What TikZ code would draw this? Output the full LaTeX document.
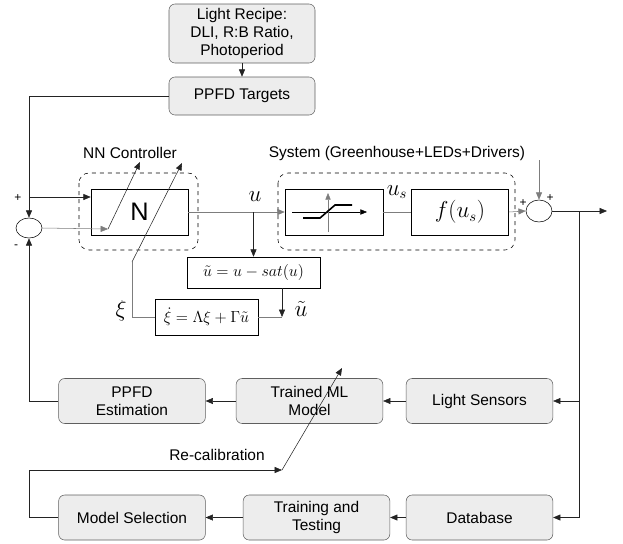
\documentclass[tikz,border=0pt]{standalone}
\usepackage{amsmath}
\usepackage[no-math]{fontspec}
\setmainfont{Liberation Sans}
\usepackage{tikz}
\usetikzlibrary{arrows.meta}
\usetikzlibrary{shapes.geometric}
\usetikzlibrary{positioning}

\definecolor{boxfill}{RGB}{237,237,237}
\definecolor{boxdraw}{RGB}{95,95,95}
\definecolor{wire}{RGB}{35,35,35}
\definecolor{lwire}{RGB}{125,125,125}

\tikzset{
  rbox/.style={draw=boxdraw, fill=boxfill, rounded corners=4.5pt, minimum width=110pt, minimum height=33.75pt, align=center, inner sep=0.75pt, font=\fontsize{11.6}{13.5}\selectfont},
  blk/.style={draw=black, minimum width=72.75pt, minimum height=34.5pt, inner sep=0.75pt},
  sumj/.style={ellipse, draw=black, minimum width=19.5pt, minimum height=15pt, inner sep=0pt},
  arr/.style={draw=wire, -{Triangle[length=5.5pt,width=4.5pt]}},
  lbl/.style={inner sep=0.75pt, font=\fontsize{11.6}{13.5}\selectfont},
  sgn/.style={inner sep=0.75pt, font=\fontsize{9}{9}\selectfont},
  mth/.style={inner sep=0.75pt, font=\fontsize{16}{16}\selectfont},
}

\begin{document}
\begin{tikzpicture}[x=0.75pt,y=0.75pt,yscale=-1,xscale=1]
\useasboundingbox (0,0) rectangle (623,543);
% Rounded Rect
\draw (242,33.5) node [rbox, minimum width=109.5pt, minimum height=44.25pt] (recipe) {Light Recipe:\\DLI, R:B Ratio,\\Photoperiod};
% Rounded Rect
\draw (242,96) node [rbox, minimum width=109.5pt, minimum height=28.5pt] (targets) {PPFD Targets};
% Rounded Rect
\draw (479.5,401) node [rbox] (sensors) {Light Sensors};
\draw (309.5,401) node [rbox] (trained) {Trained ML\\Model};
\draw (132,401) node [rbox] (estim) {PPFD\\Estimation};
\draw (479.5,517.5) node [rbox] (dbase) {Database};
\draw (316.5,517.5) node [rbox] (train) {Training and\\Testing};
\draw (132,517.5) node [rbox] (select) {Model Selection};

%Dashed Rects
\draw [dashed, rounded corners=7.5pt] (79,173) rectangle (198,250);
\draw [dashed, rounded corners=7.5pt] (278,173) rectangle (515,250);
% Text Node
\draw (130,153) node [lbl] (nnlbl) {NN Controller};
% Text Node
\draw (397,153) node [lbl] (syslbl) {System (Greenhouse+LEDs+Drivers)};

%Shape: Rectangle
\draw (139.5,212) node [blk] (net) {\fontsize{19}{19}\selectfont N};
\draw (334,212) node [blk, minimum width=73.5pt] (sat) {};
\draw (460,212) node [blk] (plant) {\fontsize{16}{16}\selectfont $f(u_s)$};
\draw (253.5,272.5) node [blk, minimum width=99.75pt, minimum height=23.25pt] (utilde) {\fontsize{12.5}{12.5}\selectfont $\tilde{u}=u-sat(u)$};
\draw (206.5,317) node [blk, minimum width=77.25pt, minimum height=27pt] (xibox) {\fontsize{12.5}{12.5}\selectfont $\dot{\xi}=\Lambda\xi+\Gamma\tilde{u}$};

%Sum junctions
\draw (29,228) node [sumj] (sumA) {};
\draw (539,211) node [sumj, minimum height=16.5pt] (sumB) {};

%Saturation icon
\draw [-{Triangle[length=5pt,width=4pt]}] (292,212) -- (367,212) ;
\draw [-{Triangle[length=5pt,width=4pt]}, lwire] (328,232) -- (328,193) ;
\draw [line width=1.2pt] (303,218) -- (320,218) -- (335,205) -- (352,205) ;

%Coordinates
\coordinate (brA) at (29,197);
\coordinate (nin) at (108,229);
\coordinate (nup) at (140,162);
\coordinate (xiup) at (182,163);
\coordinate (xikn) at (132,262);
\coordinate (ujn) at (282,317);
\coordinate (dist) at (539,160);
\coordinate (yout) at (607,211);
\coordinate (brB) at (579,211);
\coordinate (rcal) at (282,470);
\coordinate (rcup) at (342,368);

%Straight Lines
\draw [arr] (recipe) -- (targets) ;
\draw [arr] (targets.west) -| (sumA.north) ;
\draw [arr] (brA) -- (brA -| net.west) ;
\draw [arr, lwire] (sumA.east) -- (nin) ;
\draw [arr] (nin) -- (nup) ;
\draw [arr, lwire] (net.east) -- (sat.west) ;
\draw [arr] (utilde.north |- net.east) -- (utilde.north) ;
\draw [lwire] (sat.east) -- (plant.west) ;
\draw [arr, lwire] (plant.east) -- (sumB.west) ;
\draw [arr, lwire] (dist) -- (sumB.north) ;
\draw [arr] (sumB.east) -- (yout) ;
\draw [arr] (ujn |- utilde.south) -- (ujn) ;
\draw [lwire] (xibox.east) -- (ujn) ;
\draw [lwire] (xibox.west) -| (xikn) ;
\draw [arr] (xikn) -- (xiup) ;
\draw [arr] (brB) |- (sensors.east) ;
\draw [arr] (brB) |- (dbase.east) ;
\draw [arr] (sensors) -- (trained) ;
\draw [arr] (trained) -- (estim) ;
\draw [arr] (estim.west) -| (sumA.south) ;
\draw [arr] (dbase) -- (train) ;
\draw [arr] (train) -- (select) ;
\draw [arr] (select.west) -- ++(-29,0) |- (rcal) ;
\draw [arr] (rcal) -- (rcup) ;

% Text Node
\draw (255,197) node [mth] (ulbl) {$u$};
\draw (397,192) node [mth] (uslbl) {$u_s$};
\draw (301,309) node [mth] (utlbl) {$\tilde{u}$};
\draw (121,311) node [mth] (xilbl) {$\xi$};
\draw (217,455) node [lbl] (rclbl) {Re-calibration};
% Text Node
\draw (18,198) node [sgn] (pA) {+};
\draw (16,247) node [sgn] (mA) {-};
\draw (523,203) node [sgn] (pB) {+};
\draw (550,198) node [sgn] (pC) {+};
\end{tikzpicture}
\end{document}
